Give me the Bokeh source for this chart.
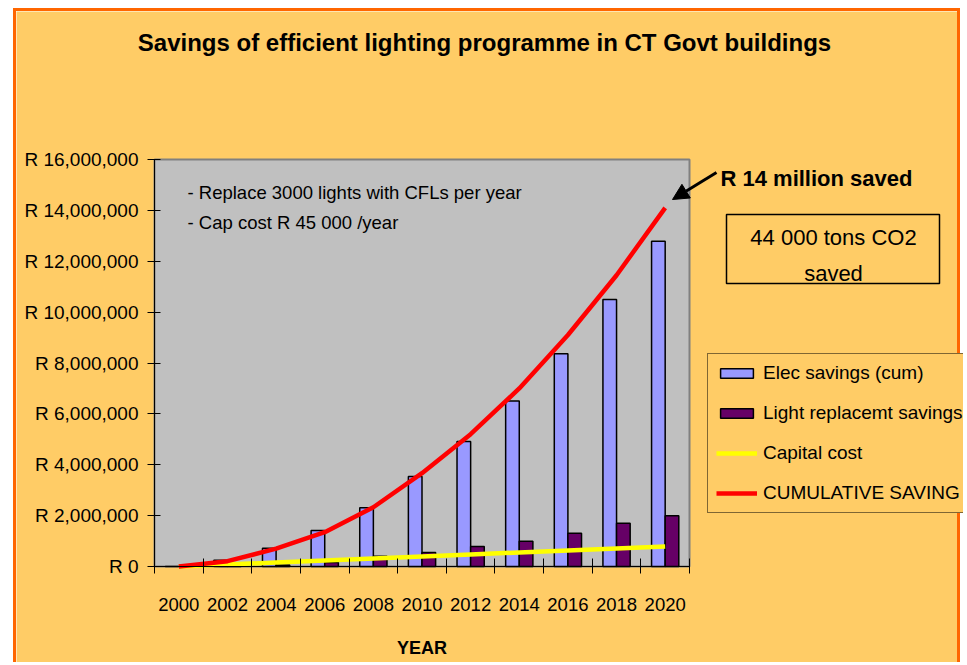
from bokeh.plotting import figure
from bokeh.models import (Range1d, FixedTicker, Label, Arrow, NormalHead, BoxAnnotation,
                          Legend, LegendItem, ColumnDataSource)
from bokeh.transform import dodge
from bokeh.embed import file_html
from bokeh.resources import INLINE

# ---------------- data ----------------
years = [2000, 2002, 2004, 2006, 2008, 2010, 2012, 2014, 2016, 2018, 2020]
elec_savings = [0, 250000, 720000, 1420000, 2310000, 3540000, 4910000, 6510000, 8360000, 10500000, 12790000]
light_replacement = [0, 20000, 60000, 160000, 400000, 550000, 790000, 990000, 1310000, 1700000, 2000000]
capital_cost = [0, 79000, 158000, 237000, 316000, 395000, 474000, 553000, 632000, 711000, 790000]
cumulative_saving = [0, 210000, 700000, 1350000, 2330000, 3670000, 5200000, 7000000, 9100000, 11450000, 14100000]
y_ticks = [0, 2000000, 4000000, 6000000, 8000000, 10000000, 12000000, 14000000, 16000000]
y_tick_labels = ["R 0", "R 2,000,000", "R 4,000,000", "R 6,000,000", "R 8,000,000",
                 "R 10,000,000", "R 12,000,000", "R 14,000,000", "R 16,000,000"]
x_tick_labels = [str(y) for y in years]
y_max = 16000000

FONT = "Liberation Sans"
BG = "#FFCC66"

idx = list(range(len(years)))
n = len(years)
src = ColumnDataSource(dict(x=idx, elec=elec_savings, light=light_replacement,
                            cap=capital_cost, cum=cumulative_saving))

# page geometry: canvas placed at page x=16..963, y=11..665
CL, CT, CR, CB = 16, 11, 963, 665
FL, FR, FT, FB = 154, 689, 159, 566   # grey plot area on the page
W, H = CR - CL, CB - CT


def X(px):
    return (px - FL) / ((FR - FL) / n) - 0.5


def Y(py):
    return (FB - py) * y_max / (FB - FT)


p = figure(width=W, height=H, output_backend="svg", toolbar_location=None,
           x_range=Range1d(X(CL), X(CR)), y_range=Range1d(Y(CB), Y(CT)),
           min_border=0, min_border_left=0, min_border_right=0,
           min_border_top=0, min_border_bottom=0)
p.title.visible = False
p.styles = {"margin-left": "13px", "margin-top": "8px",
            "border-left": "3px solid #FF6600", "border-top": "3px solid #FF6600",
            "border-right": "3px solid #FF6600"}
p.border_fill_color = BG
p.background_fill_color = BG
p.outline_line_color = None
p.xgrid.visible = False
p.ygrid.visible = False

# grey plot area
p.add_layout(BoxAnnotation(left=-0.5, right=n - 0.5, bottom=0, top=y_max,
                           fill_color="#C0C0C0", fill_alpha=1, line_color="#808080",
                           line_width=2, line_alpha=1, level="underlay"))

r_elec = p.vbar(x=dodge("x", -0.14, range=p.x_range), top="elec", width=0.28, source=src,
                fill_color="#9999FF", line_color="black", line_width=1.5)
r_light = p.vbar(x=dodge("x", 0.14, range=p.x_range), top="light", width=0.28, source=src,
                 fill_color="#660066", line_color="black", line_width=1.5)
r_cap = p.line("x", "cap", source=src, line_color="#FFFF00", line_width=4.5)
r_cum = p.line("x", "cum", source=src, line_color="#FF0000", line_width=4.5)

# y axis (kept in its left panel, drawn at the plot-area edge)
ya = p.yaxis[0]
ya.fixed_location = -0.5
ya.bounds = (0, y_max)
ya.ticker = FixedTicker(ticks=y_ticks)
ya.major_label_overrides = {t: l for t, l in zip(y_ticks, y_tick_labels)}
ya.minor_tick_line_color = None
ya.major_tick_in = 6
ya.major_tick_out = 7
ya.major_label_standoff = 9
ya.major_label_text_font = FONT
ya.major_label_text_font_size = "19px"
ya.major_label_text_color = "black"
ya.axis_line_color = "black"
ya.major_tick_line_color = "black"

# x axis: labels at category centres, ticks at category boundaries
xa = p.xaxis[0]
xa.fixed_location = 0
xa.bounds = (-0.5, n - 0.5)
xa.ticker = FixedTicker(ticks=idx, minor_ticks=[i - 0.5 for i in range(n + 1)])
xa.major_label_overrides = {i: l for i, l in zip(idx, x_tick_labels)}
xa.major_tick_line_color = None
xa.major_tick_in = 0
xa.major_tick_out = 0
xa.minor_tick_line_color = "black"
xa.minor_tick_in = 8
xa.minor_tick_out = 7
xa.major_label_standoff = 24
xa.major_label_text_font = FONT
xa.major_label_text_font_size = "18.5px"
xa.major_label_text_color = "black"
xa.axis_line_color = "black"
xa.axis_label = "YEAR"
xa.axis_label_text_font = FONT
xa.axis_label_text_font_size = "18px"
xa.axis_label_text_font_style = "bold"
xa.axis_label_text_color = "black"
xa.axis_label_standoff = 24

# title
p.add_layout(Label(x=X(484), y=Y(42), text="Savings of efficient lighting programme in CT Govt buildings",
                   text_font=FONT, text_font_size="24px", text_font_style="bold",
                   text_align="center", text_baseline="middle", text_color="black"))

# notes inside plot
p.add_layout(Label(x=X(187), y=Y(192), text="- Replace 3000 lights with CFLs per year",
                   text_font=FONT, text_font_size="18.5px", text_baseline="middle", text_color="black"))
p.add_layout(Label(x=X(187), y=Y(222), text="- Cap cost R 45 000 /year",
                   text_font=FONT, text_font_size="18.5px", text_baseline="middle", text_color="black"))

# callouts
p.add_layout(Label(x=X(720), y=Y(178), text="R 14 million saved",
                   text_font=FONT, text_font_size="22px", text_font_style="bold",
                   text_baseline="middle", text_color="black"))
p.add_layout(Arrow(end=NormalHead(size=16, fill_color="black", line_color="black"),
                   x_start=X(716), y_start=Y(172), x_end=X(672), y_end=Y(199),
                   line_color="black", line_width=3))
p.add_layout(BoxAnnotation(left=X(726), right=X(939), top=Y(214), bottom=Y(283),
                           fill_alpha=0, line_color="black", line_width=1.5, line_alpha=1))
p.add_layout(Label(x=X(833), y=Y(237), text="44 000 tons CO2",
                   text_font=FONT, text_font_size="22px", text_align="center",
                   text_baseline="middle", text_color="black"))
p.add_layout(Label(x=X(833), y=Y(273), text="saved",
                   text_font=FONT, text_font_size="22px", text_align="center",
                   text_baseline="middle", text_color="black"))

legend = Legend(items=[
    LegendItem(label="Elec savings (cum)", renderers=[r_elec]),
    LegendItem(label="Light replacemt savings", renderers=[r_light]),
    LegendItem(label="Capital cost", renderers=[r_cap]),
    LegendItem(label="CUMULATIVE SAVING", renderers=[r_cum]),
], location=(707 - CL, CB - 513))
legend.border_line_color = "black"
legend.border_line_width = 1
legend.background_fill_color = BG
legend.background_fill_alpha = 1
legend.label_text_font = FONT
legend.label_text_font_size = "19px"
legend.label_text_color = "black"
legend.glyph_width = 41
legend.glyph_height = 12
legend.label_standoff = 6
legend.spacing = 18
legend.padding = 8
legend.margin = 0
p.add_layout(legend)

open("out.html", "w").write(file_html(p, INLINE))
